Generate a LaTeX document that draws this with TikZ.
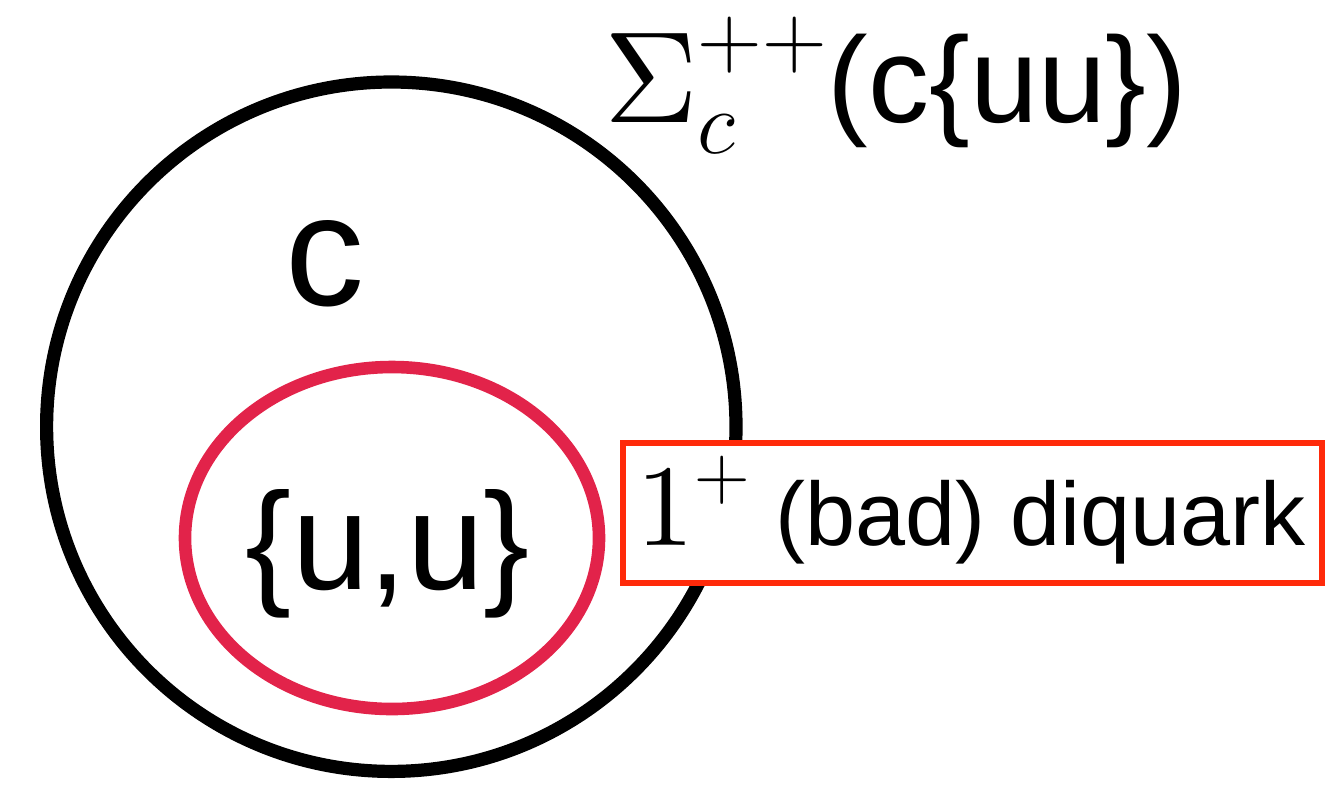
\RequirePackage{fix-cm}
\documentclass[tikz,border=0pt]{standalone}
\usepackage{graphicx}
\usepackage[no-math]{fontspec}
\usetikzlibrary{shapes.geometric}
\newfontfamily\hv{Liberation Sans}
\newcommand{\tenpt}{\fontsize{10}{12}\selectfont}
\definecolor{dqred}{RGB}{226,35,74}
\definecolor{boxred}{RGB}{255,42,10}
\begin{document}
\begin{tikzpicture}[x=0.5pt,y=-0.5pt,
  lbl/.style={inner sep=0pt, outer sep=0pt},
  hadron/.style={circle, draw=black, line width=6.6pt, minimum size=344.7pt, inner sep=0pt},
  diq/.style={ellipse, draw=dqred, line width=6.3pt, minimum width=207pt, minimum height=171pt, inner sep=0pt},
  tagbox/.style={rectangle, draw=boxred, fill=white, line width=2.8pt, minimum width=349.5pt, minimum height=70pt, inner sep=0pt}]
\useasboundingbox (0,0) rectangle (1327,784);
\node[hadron] (outer) at (391.3,426.7) {};
\node[lbl, anchor=base] (cq) at (325,305) {\hv\fontsize{79}{80}\selectfont c};
\node[diq] (inner) at (392,538) {};
\node[lbl, anchor=base] (uu) at (388,589) {\hv\fontsize{69}{70}\selectfont \{u,u\}};
\node[tagbox] (box) at (972.5,513) {};
\node[lbl, anchor=base west] (boxtxt) at (636,545) {\fontsize{55}{60}\selectfont${\scalebox{5.8}{\tenpt$1$}}^{+}$\hv\fontsize{45}{50}\selectfont\ (bad) diquark};
\node[lbl, anchor=base west] (title) at (604,122) {\fontsize{64}{70}\selectfont${\scalebox{6.5}{\tenpt$\Sigma$}}_c^{++}$\hv\fontsize{61}{70}\selectfont(c\{uu\})};
\end{tikzpicture}
\end{document}
